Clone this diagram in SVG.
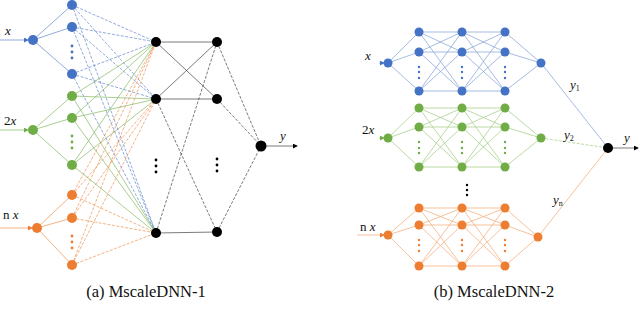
<svg xmlns="http://www.w3.org/2000/svg" width="640" height="309" viewBox="0 0 640 309">
<style>
.bg{fill:#fff}
.nb{fill:#4472C4}
.ng{fill:#70AD47}
.no{fill:#ED7D31}
.nk{fill:#000}
.lb{stroke:#4472C4;fill:none;stroke-width:0.6}
.lg{stroke:#70AD47;fill:none;stroke-width:0.6}
.lo{stroke:#ED7D31;fill:none;stroke-width:0.6}
.dsh{stroke-dasharray:3 1.5}
.lk{stroke:#333;fill:none;stroke-width:0.65}
.rb{stroke:#8FAADC;fill:none;stroke-width:0.8}
.rg{stroke:#A9D18E;fill:none;stroke-width:0.8}
.ro{stroke:#F4B183;fill:none;stroke-width:0.8}
.t{font-family:"Liberation Serif",serif;font-size:13px;fill:#111}
.ti{font-family:"Liberation Serif",serif;font-style:italic;font-size:13px;fill:#111}
.cap{font-family:"Liberation Serif",serif;font-size:16.5px;fill:#111;text-anchor:middle}
</style>
<defs>
<marker id="ab" viewBox="0 0 6 6" refX="5" refY="3" markerWidth="5" markerHeight="5" markerUnits="userSpaceOnUse" orient="auto"><path d="M0 0L6 3L0 6z" fill="#4472C4"/></marker>
<marker id="ag" viewBox="0 0 6 6" refX="5" refY="3" markerWidth="5" markerHeight="5" markerUnits="userSpaceOnUse" orient="auto"><path d="M0 0L6 3L0 6z" fill="#70AD47"/></marker>
<marker id="ao" viewBox="0 0 6 6" refX="5" refY="3" markerWidth="5" markerHeight="5" markerUnits="userSpaceOnUse" orient="auto"><path d="M0 0L6 3L0 6z" fill="#ED7D31"/></marker>
<marker id="ak" viewBox="0 0 6 6" refX="5" refY="3" markerWidth="5" markerHeight="5" markerUnits="userSpaceOnUse" orient="auto"><path d="M0 0L6 3L0 6z" fill="#000"/></marker>
</defs>
<rect class="bg" x="0" y="0" width="640" height="309"/>

<g id="connectors">
<path class="lb" d="M0 40L28 40" marker-end="url(#ab)"/>
<path class="lg" d="M0 130L28 130" marker-end="url(#ag)"/>
<path class="lo" d="M0 228L32 228" marker-end="url(#ao)"/>
<path class="lb" d="M33 40L72 5M33 40L72 27M33 40L72 74"/>
<path class="lg" d="M33 130L72 96M33 130L72 118M33 130L72 165"/>
<path class="lo" d="M37 228L72 195M37 228L72 218M37 228L72 265"/>
<path class="lb dsh" d="M72 5L156 42M72 5L156 99M72 5L156 233M72 27L156 42M72 27L156 99M72 27L156 233M72 74L156 42M72 74L156 99M72 74L156 233"/>
<path class="lg" d="M72 96L156 42M72 96L156 99M72 96L156 233M72 118L156 42M72 118L156 99M72 118L156 233M72 165L156 42M72 165L156 99M72 165L156 233"/>
<path class="lo dsh" d="M72 195L156 42M72 195L156 99M72 195L156 233M72 218L156 42M72 218L156 99M72 218L156 233M72 265L156 42M72 265L156 99M72 265L156 233"/>
<path class="lk" d="M156 42L217 42M156 99L217 99M156 233L217 232M156 42L217 99M156 99L217 42"/>
<path class="lk dsh" d="M156 99L217 232M156 233L217 42M217 42L261 146M217 99L261 146M217 232L261 146"/>
<path class="lk" d="M261 146L297 146" marker-end="url(#ak)"/>

<path class="rb" d="M379 63L384 63" marker-end="url(#ab)"/>
<path class="rb" d="M388 63L419 32M388 63L419 52M388 63L419 91M419 32L462 32M419 32L462 52M419 32L462 91M419 52L462 32M419 52L462 52M419 52L462 91M419 91L462 32M419 91L462 52M419 91L462 91M462 32L505 32M462 32L505 52M462 32L505 91M462 52L505 32M462 52L505 52M462 52L505 91M462 91L505 32M462 91L505 52M462 91L505 91M505 32L541 63M505 52L541 63M505 91L541 63"/>
<path class="rg" d="M379 138L384 138" marker-end="url(#ag)"/>
<path class="rg" d="M388 138L419 108M388 138L419 127M388 138L419 167M419 108L462 108M419 108L462 127M419 108L462 167M419 127L462 108M419 127L462 127M419 127L462 167M419 167L462 108M419 167L462 127M419 167L462 167M462 108L505 108M462 108L505 127M462 108L505 167M462 127L505 108M462 127L505 127M462 127L505 167M462 167L505 108M462 167L505 127M462 167L505 167M505 108L541 138M505 127L541 138M505 167L541 138"/>
<path class="ro" d="M357 235L384 235" marker-end="url(#ao)"/>
<path class="ro" d="M388 235L419 208M388 235L419 225M388 235L419 266M419 208L462 208M419 208L462 225M419 208L462 266M419 225L462 208M419 225L462 225M419 225L462 266M419 266L462 208M419 266L462 225M419 266L462 266M462 208L505 208M462 208L505 225M462 208L505 266M462 225L505 208M462 225L505 225M462 225L505 266M462 266L505 208M462 266L505 225M462 266L505 266M505 208L538 237M505 225L538 237M505 266L538 237"/>
<path class="rb" d="M541 63L608 148"/>
<path class="rg dsh" d="M541 138L608 148"/>
<path class="ro" d="M538 237L608 148"/>
<path class="lk" d="M608 148L638 148" marker-end="url(#ak)"/>
</g>

<g id="L-in-x"><circle class="nb" cx="33" cy="40" r="5"/></g>
<g id="L-in-2x"><circle class="ng" cx="33" cy="130" r="5"/></g>
<g id="L-in-nx"><circle class="no" cx="37" cy="228" r="5"/></g>
<g id="L-h1-blue">
<circle class="nb" cx="72" cy="5" r="5"/><circle class="nb" cx="72" cy="27" r="5"/><circle class="nb" cx="72" cy="74" r="5"/>
<circle class="nb" cx="72" cy="46" r="1.4"/><circle class="nb" cx="72" cy="52" r="1.4"/><circle class="nb" cx="72" cy="58" r="1.4"/>
</g>
<g id="L-h1-green">
<circle class="ng" cx="72" cy="96" r="5"/><circle class="ng" cx="72" cy="118" r="5"/><circle class="ng" cx="72" cy="165" r="5"/>
<circle class="ng" cx="72" cy="136" r="1.4"/><circle class="ng" cx="72" cy="142" r="1.4"/><circle class="ng" cx="72" cy="148" r="1.4"/>
</g>
<g id="L-h1-orange">
<circle class="no" cx="72" cy="195" r="5"/><circle class="no" cx="72" cy="218" r="5"/><circle class="no" cx="72" cy="265" r="5"/>
<circle class="no" cx="72" cy="236" r="1.4"/><circle class="no" cx="72" cy="242" r="1.4"/><circle class="no" cx="72" cy="248" r="1.4"/>
</g>
<g id="L-h2">
<circle class="nk" cx="156" cy="42" r="5"/><circle class="nk" cx="156" cy="99" r="5"/><circle class="nk" cx="156" cy="233" r="5"/>
<circle class="nk" cx="156" cy="160" r="1.4"/><circle class="nk" cx="156" cy="166" r="1.4"/><circle class="nk" cx="156" cy="172" r="1.4"/>
</g>
<g id="L-h3">
<circle class="nk" cx="217" cy="42" r="5"/><circle class="nk" cx="217" cy="99" r="5"/><circle class="nk" cx="217" cy="232" r="5"/>
<circle class="nk" cx="217" cy="159" r="1.4"/><circle class="nk" cx="217" cy="165" r="1.4"/><circle class="nk" cx="217" cy="171" r="1.4"/>
</g>
<g id="L-out"><circle class="nk" cx="261" cy="146" r="5.5"/></g>

<text class="ti" x="5" y="35">x</text>
<text class="t" x="4" y="125">2<tspan font-style="italic">x</tspan></text>
<text class="t" x="3" y="219">n <tspan font-style="italic">x</tspan></text>
<text class="ti" x="280" y="140">y</text>

<g id="R-in-x"><circle class="nb" cx="388" cy="63" r="4.5"/></g>
<g id="R-in-2x"><circle class="ng" cx="388" cy="138" r="4.5"/></g>
<g id="R-in-nx"><circle class="no" cx="388" cy="235" r="4.5"/></g>
<g id="R-blue">
<circle class="nb" cx="419" cy="32" r="4.5"/><circle class="nb" cx="419" cy="52" r="4.5"/><circle class="nb" cx="419" cy="91" r="4.5"/>
<circle class="nb" cx="462" cy="32" r="4.5"/><circle class="nb" cx="462" cy="52" r="4.5"/><circle class="nb" cx="462" cy="91" r="4.5"/>
<circle class="nb" cx="505" cy="32" r="4.5"/><circle class="nb" cx="505" cy="52" r="4.5"/><circle class="nb" cx="505" cy="91" r="4.5"/>
<circle class="nb" cx="419" cy="67" r="1.2"/><circle class="nb" cx="419" cy="72" r="1.2"/><circle class="nb" cx="419" cy="78" r="1.2"/>
<circle class="nb" cx="462" cy="67" r="1.2"/><circle class="nb" cx="462" cy="72" r="1.2"/><circle class="nb" cx="462" cy="78" r="1.2"/>
<circle class="nb" cx="505" cy="67" r="1.2"/><circle class="nb" cx="505" cy="72" r="1.2"/><circle class="nb" cx="505" cy="78" r="1.2"/>
</g>
<g id="R-out-blue"><circle class="nb" cx="541" cy="63" r="4.5"/></g>
<g id="R-green">
<circle class="ng" cx="419" cy="108" r="4.5"/><circle class="ng" cx="419" cy="127" r="4.5"/><circle class="ng" cx="419" cy="167" r="4.5"/>
<circle class="ng" cx="462" cy="108" r="4.5"/><circle class="ng" cx="462" cy="127" r="4.5"/><circle class="ng" cx="462" cy="167" r="4.5"/>
<circle class="ng" cx="505" cy="108" r="4.5"/><circle class="ng" cx="505" cy="127" r="4.5"/><circle class="ng" cx="505" cy="167" r="4.5"/>
<circle class="ng" cx="419" cy="142" r="1.2"/><circle class="ng" cx="419" cy="148" r="1.2"/><circle class="ng" cx="419" cy="153" r="1.2"/>
<circle class="ng" cx="462" cy="142" r="1.2"/><circle class="ng" cx="462" cy="148" r="1.2"/><circle class="ng" cx="462" cy="153" r="1.2"/>
<circle class="ng" cx="505" cy="142" r="1.2"/><circle class="ng" cx="505" cy="148" r="1.2"/><circle class="ng" cx="505" cy="153" r="1.2"/>
</g>
<g id="R-out-green"><circle class="ng" cx="541" cy="138" r="4.5"/></g>
<g id="R-orange">
<circle class="no" cx="419" cy="208" r="4.5"/><circle class="no" cx="419" cy="225" r="4.5"/><circle class="no" cx="419" cy="266" r="4.5"/>
<circle class="no" cx="462" cy="208" r="4.5"/><circle class="no" cx="462" cy="225" r="4.5"/><circle class="no" cx="462" cy="266" r="4.5"/>
<circle class="no" cx="505" cy="208" r="4.5"/><circle class="no" cx="505" cy="225" r="4.5"/><circle class="no" cx="505" cy="266" r="4.5"/>
<circle class="no" cx="419" cy="240" r="1.2"/><circle class="no" cx="419" cy="245" r="1.2"/><circle class="no" cx="419" cy="251" r="1.2"/>
<circle class="no" cx="462" cy="240" r="1.2"/><circle class="no" cx="462" cy="245" r="1.2"/><circle class="no" cx="462" cy="251" r="1.2"/>
<circle class="no" cx="505" cy="240" r="1.2"/><circle class="no" cx="505" cy="245" r="1.2"/><circle class="no" cx="505" cy="251" r="1.2"/>
</g>
<g id="R-out-orange"><circle class="no" cx="538" cy="237" r="4.5"/></g>
<g id="R-vdots"><circle class="nk" cx="467" cy="185" r="1.2"/><circle class="nk" cx="467" cy="190" r="1.2"/><circle class="nk" cx="467" cy="195" r="1.2"/></g>
<g id="R-out"><circle class="nk" cx="608" cy="148" r="5"/></g>

<text class="ti" x="365" y="60" font-size="11">x</text>
<text class="t" x="362" y="134" font-size="11">2<tspan font-style="italic">x</tspan></text>
<text class="t" x="360" y="231" font-size="11">n <tspan font-style="italic">x</tspan></text>
<text class="ti" x="570" y="89" font-size="11">y<tspan font-style="normal" font-size="8" dy="2">1</tspan></text>
<text class="ti" x="564" y="139" font-size="11">y<tspan font-style="normal" font-size="8" dy="2">2</tspan></text>
<text class="ti" x="553" y="204" font-size="11">y<tspan font-style="normal" font-size="8" dy="2">n</tspan></text>
<text class="ti" x="624" y="142" font-size="11">y</text>

<text class="cap" x="146" y="297">(a) MscaleDNN-1</text>
<text class="cap" x="494" y="297">(b) MscaleDNN-2</text>
</svg>
